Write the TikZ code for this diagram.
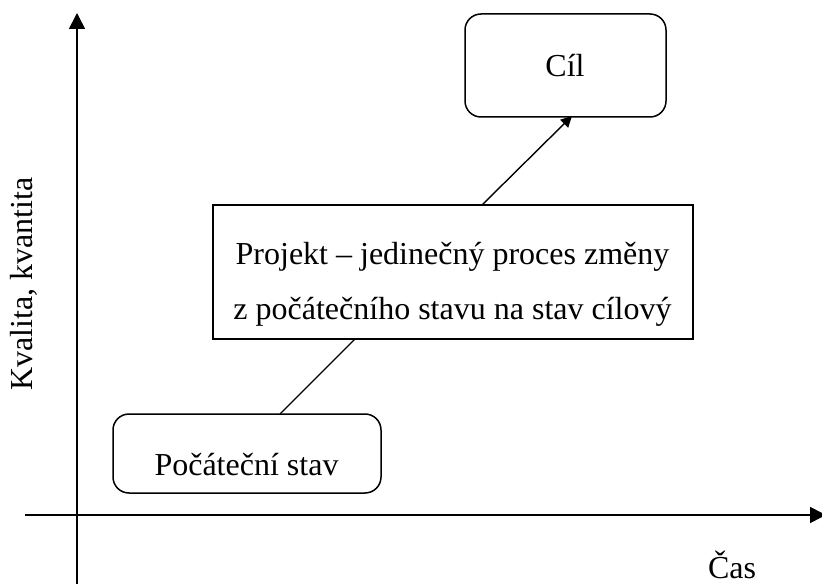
\documentclass[tikz,border=0pt]{standalone}
\usepackage{fontspec}
\setmainfont{Liberation Serif}
\usetikzlibrary{arrows.meta}
\begin{document}
\begin{tikzpicture}[x=1pt,y=-1pt,
  box/.style={draw,line width=1.5pt,inner sep=0pt},
  rbox/.style={box,rounded corners=16pt},
  lbl/.style={font=\fontsize{32}{38}\selectfont,inner sep=0pt},
  axis/.style={line width=1.6pt,-{Triangle[width=16pt,length=16pt]}},
  conn/.style={line width=1.4pt}]
\useasboundingbox (0,0) rectangle (822,588);
% axes
\coordinate (yb) at (77,584);
\coordinate (yt) at (77,13);
\coordinate (xl) at (25,515);
\coordinate (xr) at (826,515);
\draw[axis] (yb) -- (yt);
\draw[axis] (xl) -- (xr);
% boxes
\node[rbox,minimum width=201pt,minimum height=103pt] (cil) at (565.5,65.5) {};
\node[lbl,anchor=base] (cilt) at (565,77) {Cíl};
\node[box,minimum width=480pt,minimum height=134pt] (proj) at (453,272) {};
\node[lbl,anchor=base] (projt1) at (452.5,265) {Projekt – jedinečný proces změny};
\node[lbl,anchor=base] (projt2) at (452.5,319) {z počátečního stavu na stav cílový};
\node[rbox,minimum width=268pt,minimum height=79pt] (poc) at (247,453.5) {};
\node[lbl,anchor=base] (poct) at (246.5,475) {Počáteční stav};
% connectors
\coordinate (p1) at (280,414);
\coordinate (p2) at (355,339);
\coordinate (q1) at (482,205);
\coordinate (q2) at (572,116);
\draw[conn] (p1) -- (p2);
\draw[conn,-{Triangle[width=11pt,length=11pt]}] (q1) -- (q2);
% axis labels
\node[lbl,rotate=90] (ylab) at (24,284) {Kvalita, kvantita};
\node[lbl,anchor=base] (xlab) at (732,578) {Čas};
\end{tikzpicture}
\end{document}
